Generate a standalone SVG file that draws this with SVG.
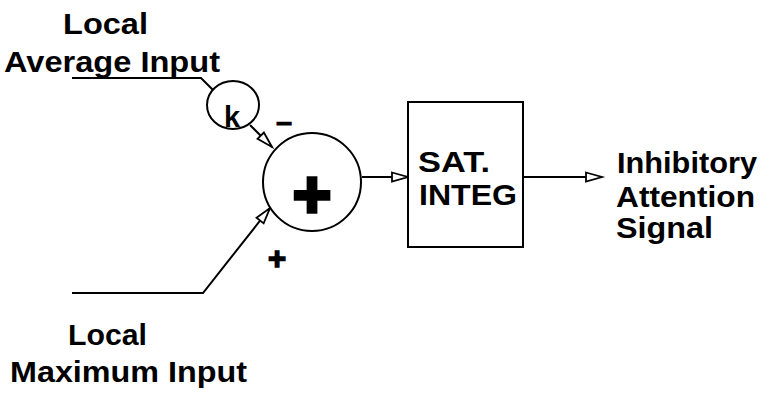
<svg xmlns="http://www.w3.org/2000/svg" width="769" height="398" viewBox="0 0 769 398">
<style>
text{font-family:"Liberation Sans",Arial,sans-serif;font-weight:bold;fill:#000}
.lbl{font-size:30px}
.ln{fill:none;stroke:#000;stroke-width:2}
.shape{fill:#fff;stroke:#000;stroke-width:2}
</style>
<defs>
<marker id="ah" markerUnits="userSpaceOnUse" markerWidth="20" markerHeight="12" refX="16" refY="4.5" orient="auto" overflow="visible">
<path d="M0,0 L16,4.5 L0,9 z" fill="#fff" stroke="#000" stroke-width="1.8" stroke-linejoin="miter"/>
</marker>
</defs>
<rect width="769" height="398" fill="#fff"/>
<g id="label-avg">
<text class="lbl" x="63" y="34" textLength="85" lengthAdjust="spacingAndGlyphs">Local</text>
<text class="lbl" x="4" y="72" textLength="216" lengthAdjust="spacingAndGlyphs">Average Input</text>
</g>
<g id="label-max">
<text class="lbl" x="68" y="345" textLength="79" lengthAdjust="spacingAndGlyphs">Local</text>
<text class="lbl" x="10" y="382" textLength="237" lengthAdjust="spacingAndGlyphs">Maximum Input</text>
</g>
<g id="connectors">
<polyline class="ln" points="72,78 201,78 213,90"/>
<line class="ln" x1="250" y1="125" x2="272" y2="147" marker-end="url(#ah)"/>
<polyline class="ln" points="72,293 203,293 270,208" marker-end="url(#ah)"/>
<line class="ln" x1="362" y1="177" x2="408" y2="177" marker-end="url(#ah)"/>
<line class="ln" x1="520" y1="177" x2="602" y2="177" marker-end="url(#ah)"/>
</g>
<g id="k-node">
<ellipse class="shape" cx="233" cy="105" rx="26" ry="24"/>
<text x="224" y="127" font-size="29">k</text>
</g>
<g id="sum-node">
<circle class="shape" cx="312" cy="182" r="49"/>
<text x="312" y="217" font-size="66" text-anchor="middle" stroke="#000" stroke-width="3.5">+</text>
</g>
<g id="signs">
<text x="276" y="132" font-size="29" stroke="#000" stroke-width="0.8">–</text>
<text x="277" y="269" font-size="31" text-anchor="middle" stroke="#000" stroke-width="1.5">+</text>
</g>
<g id="integ-node">
<rect class="shape" x="408" y="102" width="115" height="145"/>
<text class="lbl" x="418" y="172" textLength="72" lengthAdjust="spacingAndGlyphs">SAT.</text>
<text class="lbl" x="419" y="205" textLength="98" lengthAdjust="spacingAndGlyphs">INTEG</text>
</g>
<g id="output-label">
<text class="lbl" x="617" y="173" textLength="140" lengthAdjust="spacingAndGlyphs">Inhibitory</text>
<text class="lbl" x="616" y="207" textLength="139" lengthAdjust="spacingAndGlyphs">Attention</text>
<text class="lbl" x="616" y="238" textLength="97" lengthAdjust="spacingAndGlyphs">Signal</text>
</g>
</svg>
